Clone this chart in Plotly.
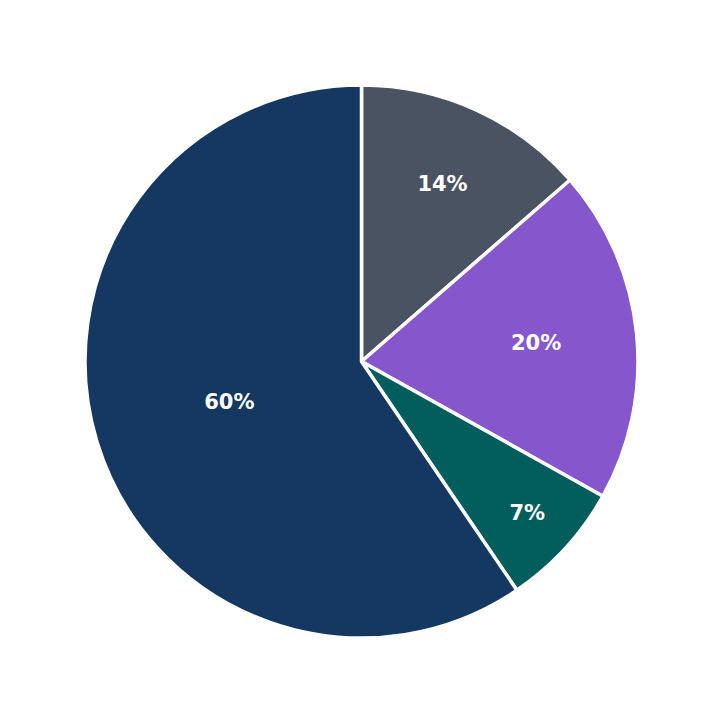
import plotly.graph_objects as go

labels = ["A", "B", "C", "D"]
values = [13.6, 19.5, 7.4, 59.5]
pct_labels = ["14%", "20%", "7%", "60%"]
colors = ["#4a5361", "#8657cc", "#025e5c", "#143861"]

fig = go.Figure(go.Pie(
    labels=labels, values=values, sort=False, direction="clockwise", rotation=0,
    text=pct_labels, texttemplate="%{text}",
    marker=dict(colors=colors, line=dict(color="white", width=3.5)),
    textposition="inside", insidetextorientation="horizontal",
    textfont=dict(family="DejaVu Sans", size=21, color="white", weight="bold"),
    showlegend=False, hoverinfo="skip",
))
fig.update_layout(width=723, height=723, margin=dict(l=77, r=93, t=77, b=93),
                  paper_bgcolor="white", plot_bgcolor="white")
fig.write_html("out.html")
